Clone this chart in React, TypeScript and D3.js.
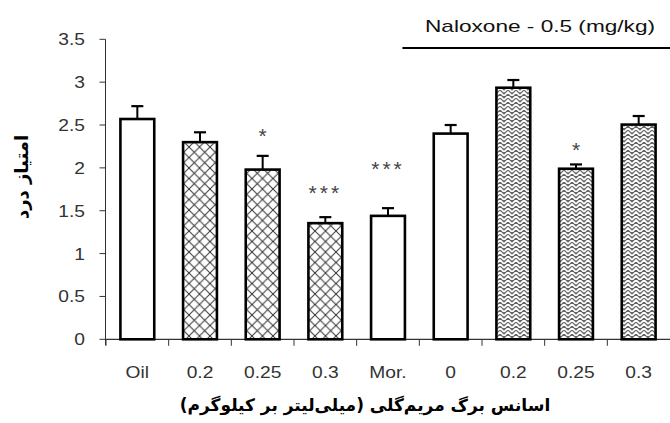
import React from 'react';
import * as d3 from 'd3';

const categories = ['Oil', '0.2', '0.25', '0.3', 'Mor.', '0', '0.2', '0.25', '0.3'];
const means = [2.57, 2.30, 1.98, 1.355, 1.44, 2.40, 2.935, 1.99, 2.505];
const errors = [0.15, 0.115, 0.16, 0.07, 0.09, 0.10, 0.09, 0.05, 0.10];
const fills = ['none', 'cross', 'cross', 'cross', 'none', 'none', 'weave', 'weave', 'weave'];
const stars = ['', '', '*', '***', '***', '', '', '*', ''];
const starValues = [0, 0, 2.42, 1.75, 2.03, 0, 0, 2.25, 0];
const yTicks = [0, 0.5, 1, 1.5, 2, 2.5, 3, 3.5];
const naloxoneStart = 5;
const naloxoneLabel = 'Naloxone - 0.5 (mg/kg)';
const xTitle = 'اسانس برگ مریم‌گلی (میلی‌لیتر بر کیلوگرم)';
const yTitle = 'امتیاز درد';

const W = 670;
const H = 423;
const left = 106;
const right = 670;
const top = 39.3;
const bottom = 339.3;
const SX = 1.2;

export default function App() {
  const idx = d3.range(categories.length);
  const x = d3.scaleBand<number>().domain(idx).range([left, right]).paddingInner(0.46).paddingOuter(0.23);
  const y = d3.scaleLinear().domain([0, 3.5]).range([bottom, top]);
  const step = x.step();
  const bw = x.bandwidth();
  const boundaries = d3.range(categories.length).map((i) => left + i * step);
  const fillFor = (f: string) => (f === 'cross' ? 'url(#cross)' : f === 'weave' ? 'url(#weave)' : '#fff');
  const fmt = (v: number) => String(v);

  return (
    <svg width={W} height={H} style={{ position: 'absolute', left: 0, top: 0, background: '#fff' }}
      fontFamily="Arial, 'Liberation Sans', sans-serif">
      <defs>
        <pattern id="cross" width={10.5} height={10.5} patternUnits="userSpaceOnUse">
          <rect width={10.5} height={10.5} fill="#fff" />
          <path d="M0,0 L10.5,10.5 M10.5,0 L0,10.5" stroke="#333" strokeWidth={1} />
        </pattern>
        <pattern id="weave" width={8} height={8} patternUnits="userSpaceOnUse">
          <rect width={8} height={8} fill="#666" />
          <path d="M0,4 L4,0 L8,4 M0,8 L4,4 L8,8" stroke="#fff" strokeWidth={1.7} fill="none" />
        </pattern>
      </defs>

      {/* axes */}
      <line x1={left - 0.5} x2={left - 0.5} y1={top} y2={bottom + 6} stroke="#333" strokeWidth={1} />
      <line x1={left - 0.5} x2={right} y1={bottom} y2={bottom} stroke="#333" strokeWidth={1.2} />
      {yTicks.map((t) => (
        <g key={'yt' + t}>
          <line x1={left - 6.5} x2={left - 0.5} y1={y(t)} y2={y(t)} stroke="#333" strokeWidth={1} />
          <text transform={`translate(85,${y(t) + 6}) scale(${SX},1)`} textAnchor="end" fontSize={16} fill="#333">
            {fmt(t)}
          </text>
        </g>
      ))}
      {boundaries.map((b, i) => (
        <line key={'xt' + i} x1={b} x2={b} y1={bottom} y2={bottom + 6.5} stroke="#333" strokeWidth={1} />
      ))}
      {categories.map((c, i) => (
        <text key={'xl' + i} transform={`translate(${(x(i) as number) + bw / 2},378) scale(${SX},1)`}
          textAnchor="middle" fontSize={16} fill="#333">
          {c}
        </text>
      ))}

      {/* bars */}
      {means.map((m, i) => {
        const x0 = x(i) as number;
        const cx = x0 + bw / 2;
        return (
          <g key={'b' + i}>
            <line x1={cx} x2={cx} y1={y(m)} y2={y(m + errors[i])} stroke="#000" strokeWidth={2} />
            <line x1={cx - 6} x2={cx + 6} y1={y(m + errors[i])} y2={y(m + errors[i])} stroke="#000" strokeWidth={2.2} />
            <rect x={x0} y={y(m)} width={bw} height={bottom - y(m)} fill={fillFor(fills[i])} stroke="#000" strokeWidth={2.6} />
          </g>
        );
      })}

      {stars.map((s, i) =>
        s ? (
          <text key={'s' + i} x={(x(i) as number) + bw / 2} y={y(starValues[i]) + 11} textAnchor="middle"
            fontSize={21} letterSpacing={s.length > 1 ? 3 : 0} fill="#444">
            {s}
          </text>
        ) : null
      )}

      {/* naloxone bracket */}
      <line x1={(x(naloxoneStart) as number) - step / 2} x2={right} y1={48} y2={48} stroke="#000" strokeWidth={2} />
      <text x={540} y={32} textAnchor="middle" fontSize={17} fill="#111" textLength={230} lengthAdjust="spacingAndGlyphs">
        {naloxoneLabel}
      </text>

      {/* titles */}
      <text x={365} y={411} textAnchor="middle" fontSize={17} fontWeight="bold" fill="#000"
        fontFamily="'DejaVu Sans', sans-serif" direction="rtl">
        {xTitle}
      </text>
      <text transform="translate(28,177) rotate(-90)" textAnchor="middle" fontSize={18} fontWeight="bold"
        fill="#000" fontFamily="'DejaVu Sans', sans-serif" direction="rtl">
        {yTitle}
      </text>
    </svg>
  );
}
